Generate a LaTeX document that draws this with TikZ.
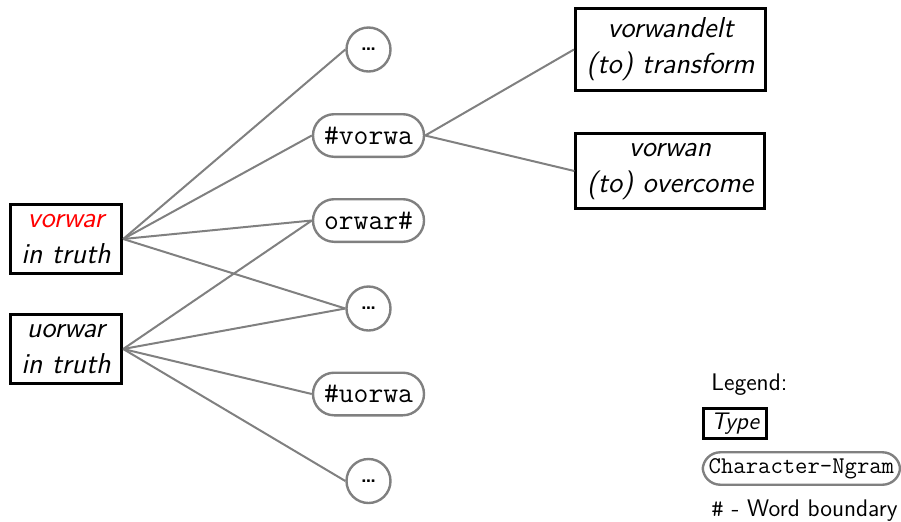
\documentclass[tikz,border=0pt]{standalone}
\usepackage{fontspec}
\usetikzlibrary{positioning}
\definecolor{linegray}{RGB}{128,128,128}
\tikzset{
  typebox/.style={draw=black, line width=1.5pt, align=center, inner xsep=5.5pt, inner ysep=4.75pt,
    font=\fontsize{14.4}{18}\selectfont\sffamily\itshape},
  ngram/.style={draw=linegray, line width=1.2pt, rounded corners=10.6pt, inner xsep=5.5pt,
    minimum height=21.3pt, font=\fontsize{14.4}{18}\selectfont\ttfamily},
  dots/.style={draw=linegray, line width=1.2pt, circle, minimum size=22pt, inner sep=0pt,
    font=\fontsize{10}{11}\selectfont\sffamily\bfseries},
  link/.style={draw=linegray, line width=1pt},
  legendtext/.style={anchor=base west, inner sep=0pt, font=\fontsize{12}{14}\selectfont\sffamily},
}

\begin{document}
\begin{tikzpicture}[x=0.5pt, y=-0.5pt]
  \useasboundingbox (0,0) rectangle (901,521);

  % word types
  \node[typebox] (vorwar) at (66,239) {\textcolor{red}{vorwar}\\in truth};
  \node[typebox] (uorwar) at (66,349) {uorwar\\in truth};
  \node[typebox] (vorwandelt) at (670.5,49.5) {vorwandelt\\(to) transform};
  \node[typebox] (vorwan) at (670,171) {vorwan\\(to) overcome};

  % character n-grams
  \node[dots] (dotsA) at (368.5,49.5) {\ldots};
  \node[ngram] (vorwa) at (368.5,135.5) {\#vorwa};
  \node[ngram] (orwar) at (368.5,220.5) {orwar\#};
  \node[dots] (dotsB) at (368.5,308.5) {\ldots};
  \node[ngram] (uorwa) at (368.5,394) {\#uorwa};
  \node[dots] (dotsC) at (368.5,481) {\ldots};

  \foreach \n in {dotsA, vorwa, orwar, dotsB}
    \draw[link] (vorwar.east) -- (\n.west);
  \foreach \n in {orwar, dotsB, uorwa, dotsC}
    \draw[link] (uorwar.east) -- (\n.west);
  \draw[link] (vorwa.east) -- (vorwandelt.west);
  \draw[link] (vorwa.east) -- (vorwan.west);

  % legend
  \node[legendtext] (legend) at (711,390) {Legend:};
  \node[typebox, anchor=west, inner xsep=4pt, inner ysep=2.3pt, font=\fontsize{12}{14}\selectfont\sffamily\itshape]
    (legtype) at (701.5,423.5) {Type};
  \node[ngram, anchor=west, inner xsep=3pt, inner ysep=3pt, minimum height=0pt, rounded corners=8.8pt,
    font=\fontsize{12}{14}\selectfont\ttfamily]
    (legngram) at (701.5,468.5) {Character-Ngram};
  \node[legendtext] (boundary) at (711,516.5) {{\ttfamily\#} - Word boundary};
\end{tikzpicture}
\end{document}
